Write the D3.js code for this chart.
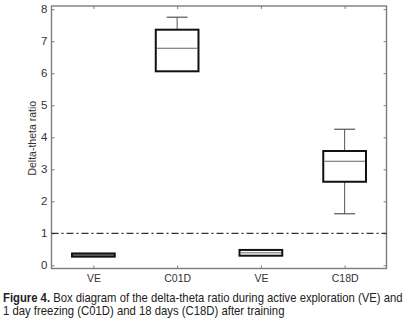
<!DOCTYPE html>
<html>
<head>
<meta charset="utf-8">
<script src="https://cdn.jsdelivr.net/npm/d3@7"></script>
<style>
  html, body { margin: 0; padding: 0; background: #fff; }
  svg { display: block; }
</style>
</head>
<body>
<svg id="chart" width="414" height="326"></svg>
<script>
// Group labels along the x axis (VE appears twice: before each test day)
const tickLabels = ["VE", "C01D", "VE", "C18D"];
// Box statistics per group
const whiskerLow  = [0.27, 6.06, 0.30, 1.61];
const q1          = [0.27, 6.06, 0.30, 2.61];
const medians     = [0.32, 6.78, 0.39, 3.25];
const q3          = [0.37, 7.36, 0.48, 3.57];
const whiskerHigh = [0.37, 7.75, 0.48, 4.25];
const yTicks = [0, 1, 2, 3, 4, 5, 6, 7, 8];
const referenceLevel = 1;

const svg = d3.select("#chart");
const plotLeft = 51.5, plotRight = 386.5, plotTop = 6, plotBottom = 268.5;

const x = d3.scalePoint().domain(d3.range(tickLabels.length)).range([plotLeft, plotRight]).padding(0.5);
const y = d3.scaleLinear().domain([-0.1, 8.1]).range([plotBottom, plotTop]);

const axisColor = "#7d7d7d";
const labelFont = "'Liberation Sans', Arial, sans-serif";

// Axes: MATLAB-style box with inward ticks on all sides
const tickLen = 3;
const gLeft = svg.append("g").attr("transform", `translate(${plotLeft},0)`)
  .call(d3.axisLeft(y).tickValues(yTicks).tickSize(-tickLen).tickPadding(4).tickFormat(d3.format("d")));
const gRight = svg.append("g").attr("transform", `translate(${plotRight},0)`)
  .call(d3.axisRight(y).tickValues(yTicks).tickSize(-tickLen).tickFormat(""));
const gBottom = svg.append("g").attr("transform", `translate(0,${plotBottom})`)
  .call(d3.axisBottom(x).tickSize(-tickLen).tickPadding(6).tickFormat(i => tickLabels[i]));
const gTop = svg.append("g").attr("transform", `translate(0,${plotTop})`)
  .call(d3.axisTop(x).tickSize(-tickLen).tickFormat(""));

[gLeft, gRight, gBottom, gTop].forEach(g => {
  g.select(".domain").remove();
  g.selectAll(".tick line").attr("stroke", axisColor).attr("stroke-width", 1);
  g.selectAll(".tick text").attr("fill", "#333").attr("font-family", labelFont);
});
gLeft.selectAll(".tick text").attr("font-size", 11.5);
gBottom.selectAll(".tick text").attr("font-size", 10.5);

// Frame
svg.append("rect")
  .attr("x", plotLeft).attr("y", plotTop)
  .attr("width", plotRight - plotLeft).attr("height", plotBottom - plotTop)
  .attr("fill", "none").attr("stroke", axisColor).attr("stroke-width", 1.4);

// Dash-dot reference line
svg.append("line")
  .attr("x1", plotLeft).attr("x2", plotRight)
  .attr("y1", y(referenceLevel)).attr("y2", y(referenceLevel))
  .attr("stroke", "#333").attr("stroke-width", 1.2)
  .attr("stroke-dasharray", "7,3,2,3");

// Boxes
const boxW = x.step() * 0.51;
const capW = boxW * 0.49;
const boxes = svg.append("g").selectAll("g").data(d3.range(tickLabels.length)).join("g");

boxes.append("line")
  .attr("x1", i => x(i)).attr("x2", i => x(i))
  .attr("y1", i => y(whiskerHigh[i])).attr("y2", i => y(q3[i]))
  .attr("stroke", "#555").attr("stroke-width", 1);
boxes.append("line")
  .attr("x1", i => x(i)).attr("x2", i => x(i))
  .attr("y1", i => y(q1[i])).attr("y2", i => y(whiskerLow[i]))
  .attr("stroke", "#555").attr("stroke-width", 1);
boxes.filter(i => whiskerHigh[i] > q3[i]).append("line")
  .attr("x1", i => x(i) - capW / 2).attr("x2", i => x(i) + capW / 2)
  .attr("y1", i => y(whiskerHigh[i])).attr("y2", i => y(whiskerHigh[i]))
  .attr("stroke", "#555").attr("stroke-width", 1.2);
boxes.filter(i => whiskerLow[i] < q1[i]).append("line")
  .attr("x1", i => x(i) - capW / 2).attr("x2", i => x(i) + capW / 2)
  .attr("y1", i => y(whiskerLow[i])).attr("y2", i => y(whiskerLow[i]))
  .attr("stroke", "#555").attr("stroke-width", 1.2);

boxes.append("rect")
  .attr("x", i => x(i) - boxW / 2).attr("width", boxW)
  .attr("y", i => y(q3[i])).attr("height", i => y(q1[i]) - y(q3[i]))
  .attr("fill", i => i === 0 ? "#555" : "#fff")
  .attr("stroke", "#111").attr("stroke-width", 2);
boxes.append("line")
  .attr("x1", i => x(i) - boxW / 2 + 1).attr("x2", i => x(i) + boxW / 2 - 1)
  .attr("y1", i => y(medians[i])).attr("y2", i => y(medians[i]))
  .attr("stroke", "#666").attr("stroke-width", 1);

// Y axis title
svg.append("text")
  .attr("transform", `translate(36,${(plotTop + plotBottom) / 2 + 1}) rotate(-90)`)
  .attr("text-anchor", "middle")
  .attr("font-family", labelFont).attr("font-size", 10.5).attr("fill", "#333")
  .text("Delta-theta ratio");

// Caption: each line is horizontally condensed to its target width
const capFont = "'Liberation Sans Narrow', 'Arial Narrow', 'Liberation Sans', sans-serif";
function captionLine(yPos, width, parts) {
  const g = svg.append("g");
  const t = g.append("text")
    .attr("font-family", capFont).attr("font-size", 12).attr("fill", "#222");
  parts.forEach(p => t.append("tspan").attr("font-weight", p.bold ? "bold" : "normal").text(p.text));
  const natural = t.node().getComputedTextLength();
  g.attr("transform", `translate(3,${yPos}) scale(${width / natural},1)`);
}
captionLine(301.5, 400, [
  { text: "Figure 4.", bold: true },
  { text: " Box diagram of the delta-theta ratio during active exploration (VE) and" }
]);
captionLine(315, 282, [
  { text: "1 day freezing (C01D) and 18 days (C18D) after training" }
]);
</script>
</body>
</html>
